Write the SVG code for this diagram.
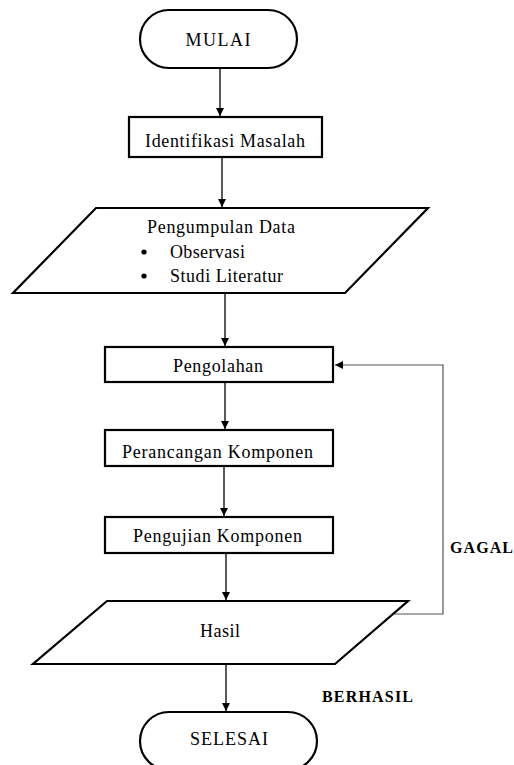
<svg xmlns="http://www.w3.org/2000/svg" width="514" height="765" viewBox="0 0 514 765">
<style>
.shape{fill:#fff;stroke:#000;stroke-width:2.2}
.conn{fill:none;stroke:#000;stroke-width:1.3}
.fb{fill:none;stroke:#555;stroke-width:1.2}
text{font-family:'Liberation Serif',serif;fill:#000}
.t{font-size:18px;text-anchor:middle}
.tl{font-size:18px}
.b{font-size:16px;font-weight:bold}
</style>
<defs>
<marker id="ah" markerUnits="userSpaceOnUse" markerWidth="9" markerHeight="9" refX="8" refY="4" orient="auto">
<path d="M0,0 L8,4 L0,8 z" fill="#000"/>
</marker>
<clipPath id="clipPer"><rect x="106" y="431" width="226" height="32"/></clipPath>
</defs>
<rect width="514" height="765" fill="#fff"/>
<g id="connectors">
<line class="conn" x1="220" y1="68" x2="220" y2="116" marker-end="url(#ah)"/>
<line class="conn" x1="222" y1="157" x2="222" y2="207" marker-end="url(#ah)"/>
<line class="conn" x1="225" y1="293" x2="225" y2="346" marker-end="url(#ah)"/>
<line class="conn" x1="225" y1="382" x2="225" y2="429" marker-end="url(#ah)"/>
<line class="conn" x1="224" y1="466" x2="224" y2="516" marker-end="url(#ah)"/>
<line class="conn" x1="226" y1="553" x2="226" y2="600" marker-end="url(#ah)"/>
<line class="conn" x1="226" y1="664" x2="226" y2="711" marker-end="url(#ah)"/>
<polyline class="fb" points="393,614 443,614 443,365 335,365" marker-end="url(#ah)"/>
</g>
<g id="mulai">
<rect class="shape" x="140" y="10" width="157" height="58" rx="29" ry="29"/>
<text class="t" x="218" y="46" textLength="65" lengthAdjust="spacing">MULAI</text>
</g>
<g id="identifikasi">
<rect class="shape" x="129" y="117" width="193" height="40"/>
<text class="t" x="225" y="147" textLength="160" lengthAdjust="spacing">Identifikasi Masalah</text>
</g>
<g id="pengumpulan">
<polygon class="shape" points="96,208 428,208 345,293 13,293"/>
<text class="t" x="221" y="233" textLength="148" lengthAdjust="spacing">Pengumpulan Data</text>
<circle cx="144" cy="252" r="2.6" fill="#000"/>
<text class="tl" x="170" y="258" textLength="75" lengthAdjust="spacing">Observasi</text>
<circle cx="144" cy="276" r="2.6" fill="#000"/>
<text class="tl" x="170" y="282" textLength="113" lengthAdjust="spacing">Studi Literatur</text>
</g>
<g id="pengolahan">
<rect class="shape" x="105" y="347" width="228" height="35"/>
<text class="t" x="218" y="372" textLength="90" lengthAdjust="spacing">Pengolahan</text>
</g>
<g id="perancangan">
<rect class="shape" x="105" y="430" width="228" height="36"/>
<text class="t" x="217.5" y="458" textLength="191" lengthAdjust="spacing" clip-path="url(#clipPer)">Perancangan Komponen</text>
</g>
<g id="pengujian">
<rect class="shape" x="105" y="517" width="228" height="36"/>
<text class="t" x="217.5" y="542" textLength="169" lengthAdjust="spacing">Pengujian Komponen</text>
</g>
<g id="hasil">
<polygon class="shape" points="107,601 408,601 335,664 33,664"/>
<text class="t" x="220" y="637" textLength="40" lengthAdjust="spacing">Hasil</text>
</g>
<g id="selesai">
<rect class="shape" x="140" y="712" width="177" height="58" rx="29" ry="29"/>
<text class="t" x="229" y="745" textLength="78" lengthAdjust="spacing">SELESAI</text>
</g>
<g id="labels">
<text class="b" x="450" y="553" textLength="63" lengthAdjust="spacing">GAGAL</text>
<text class="b" x="322" y="702" textLength="91" lengthAdjust="spacing">BERHASIL</text>
</g>
</svg>
